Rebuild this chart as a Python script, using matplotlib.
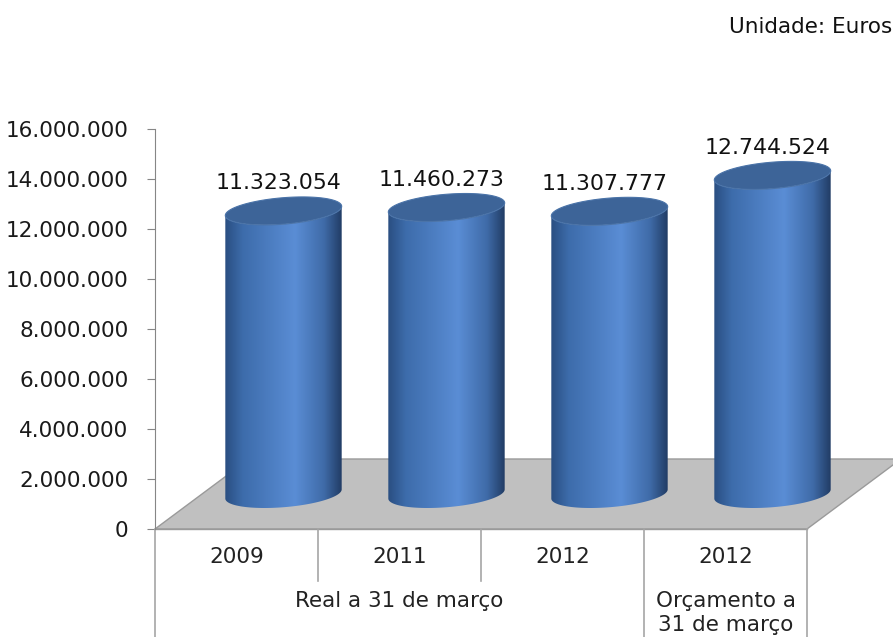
import numpy as np
import matplotlib
matplotlib.use("Agg")
import matplotlib.pyplot as plt
from matplotlib.patches import Polygon
from matplotlib.colors import LinearSegmentedColormap

# data
categories = ["2009", "2011", "2012", "2012"]
values = [11323054, 11460273, 11307777, 12744524]
groups = ["Real a 31 de março", "Orçamento a\n31 de março"]
group_spans = [(0, 3), (3, 4)]
yticks = [0, 2000000, 4000000, 6000000, 8000000, 10000000, 12000000, 14000000, 16000000]

def fmt(v):
    return f"{v:,.0f}".replace(",", ".")

plt.rcParams["font.family"] = ["DejaVu Sans"]

fig = plt.figure(figsize=(8.93, 6.37), dpi=100)
ax = fig.add_axes([155 / 893, 108 / 637, 738 / 893, 400 / 637])

# pseudo 3d geometry (1 category = 163 px, 1M = 25 px)
px_x = 1 / 163
px_y = 40000
depth_dx = 94 * px_x
depth_dy = 70 * px_y
n = len(categories)

# floor
floor = Polygon([(0, 0), (n, 0), (n + depth_dx, depth_dy), (depth_dx, depth_dy)],
                closed=True, facecolor="#c0c0c0", edgecolor="#9a9a9a", lw=1, zorder=1)
ax.add_patch(floor)

cmap = LinearSegmentedColormap.from_list("cyl", [
    (0.0, "#2a4f82"), (0.15, "#3d6cab"), (0.6, "#5a8dd5"),
    (0.85, "#3f6ba8"), (1.0, "#223d66")])
grad = np.linspace(0, 1, 200).reshape(1, -1)

a = 55 * px_x
b = 19 * px_x
c = 14 * px_y
tR = np.arctan2(b, a)
front = np.linspace(tR + np.pi, tR + 2 * np.pi, 80)
full = np.linspace(0, 2 * np.pi, 120)
half_w = np.hypot(a, b)

for i, v in enumerate(values):
    cx = i + 0.5 + depth_dx / 2
    y0 = depth_dy / 2
    y1 = y0 + v
    bx = cx + a * np.cos(front) + b * np.sin(front)
    by = y0 + c * np.sin(front)
    tx = cx + a * np.cos(front[::-1]) + b * np.sin(front[::-1])
    ty = y1 + c * np.sin(front[::-1])
    side = Polygon(np.column_stack([np.r_[bx, tx], np.r_[by, ty]]), closed=True,
                   facecolor="none", edgecolor="none", zorder=3)
    ax.add_patch(side)
    im = ax.imshow(grad, extent=[cx - half_w, cx + half_w, y0 - c, y1 + c],
                   aspect="auto", cmap=cmap, origin="lower", zorder=3)
    im.set_clip_path(side)
    top = Polygon(np.column_stack([cx + a * np.cos(full) + b * np.sin(full),
                                   y1 + c * np.sin(full)]), closed=True,
                  facecolor="#3d6498", edgecolor="#4a73a8", lw=0.8, zorder=4)
    ax.add_patch(top)
    ax.annotate(fmt(v), (cx - 0.03, y1), xytext=(0, 20), textcoords="offset points",
                ha="center", va="center", fontsize=15.8, color="#111111", zorder=5)

# category table below the floor
trans = ax.get_xaxis_transform()
sep_color = "#a6a6a6"
ax.plot([0, n], [0, 0], transform=trans, color="#9a9a9a", lw=1, clip_on=False, zorder=2)
for x in range(n + 1):
    bottom = -0.13 if x in (1, 2) else -0.3
    ax.plot([x, x], [0, bottom], transform=trans, color=sep_color, lw=1.2, clip_on=False)
for i, cat in enumerate(categories):
    ax.text(i + 0.5, -0.07, cat, transform=trans, ha="center", va="center",
            fontsize=15.5, color="#222222")
for g, (s, e) in zip(groups, group_spans):
    ax.text((s + e) / 2, -0.155, g, transform=trans, ha="center", va="top",
            fontsize=15.5, color="#222222", linespacing=1.25)

ax.set_xlim(0, 738 / 163)
ax.set_ylim(0, 16000000)
ax.set_yticks(yticks)
ax.set_yticklabels([fmt(t) for t in yticks])
ax.set_xticks([])
ax.tick_params(axis="y", direction="out", length=6, color="#868686",
               labelsize=15.5, labelcolor="#1a1a1a", pad=13)
for s in ["top", "right", "bottom"]:
    ax.spines[s].set_visible(False)
ax.spines["left"].set_color("#868686")
ax.patch.set_alpha(0)

fig.text(0.999, 1 - 27 / 637, "Unidade: Euros", ha="right", va="center",
         fontsize=15.5, color="#111111")

fig.savefig("out.png", dpi=100)
